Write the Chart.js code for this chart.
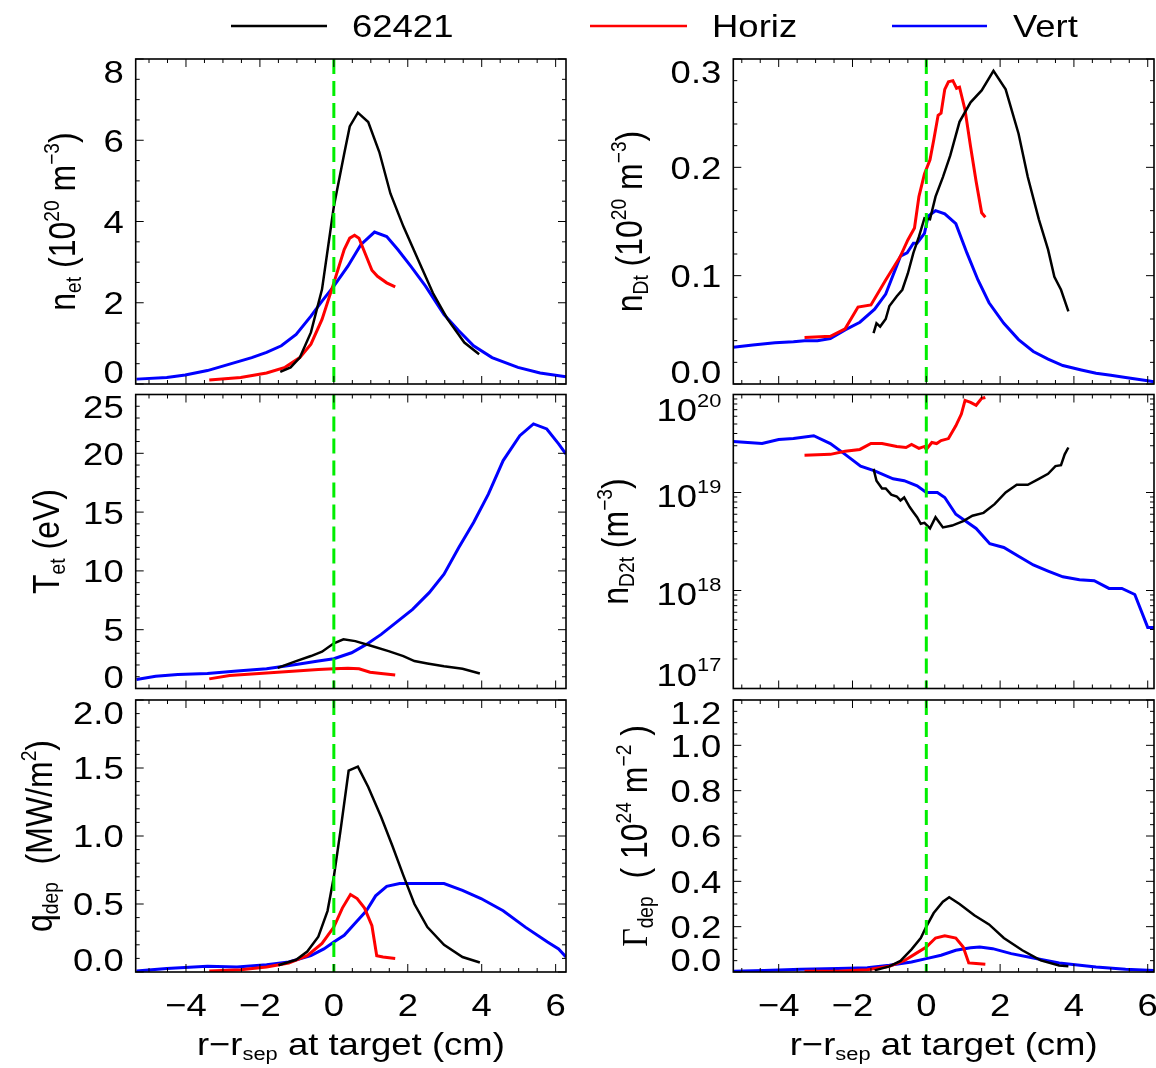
<!DOCTYPE html>
<html>
<head>
<meta charset="utf-8">
<script src="https://cdn.jsdelivr.net/npm/chart.js@4.4.1/dist/chart.umd.min.js"></script>
<style>
  html, body { margin: 0; padding: 0; background: #fff; }
  #wrap { position: relative; width: 1156px; height: 1068px; overflow: hidden; background: #fff; }
  #wrap canvas { position: absolute; left: 0; top: 0; }
</style>
</head>
<body>
<div id="wrap"></div>
<script>
// -------- series --------
const seriesNames = ["62421", "Horiz", "Vert"];
const seriesColors = ["#000000", "#ff0000", "#0000ff"];
const seriesWidths = [2.5, 3, 3];

// x ticks (cm)
const xTicks = [-4, -2, 0, 2, 4, 6];
const xTickLabels = ["\u22124", "\u22122", "0", "2", "4", "6"];

// n_et (1e20 m^-3)
const netShotX = [-1.45,-1.17,-0.92,-0.62,-0.32,0,0.28,0.43,0.65,0.93,1.23,1.53,1.88,2.28,2.68,3.08,3.53,3.93];
const netShotY = [0.30,0.41,0.65,1.27,2.33,4.37,5.67,6.34,6.68,6.45,5.71,4.69,3.88,3.06,2.24,1.59,1.02,0.73];
const netHorizX = [-3.37,-2.52,-1.82,-1.32,-0.92,-0.62,-0.32,0,0.28,0.43,0.56,0.68,0.88,1.03,1.18,1.43,1.66];
const netHorizY = [0.10,0.16,0.27,0.41,0.65,0.98,1.59,2.49,3.31,3.59,3.66,3.59,3.14,2.80,2.65,2.49,2.39];
const netVertX = [-5.34,-4.52,-4.02,-3.42,-2.82,-2.22,-1.82,-1.42,-1.02,-0.62,-0.32,0,0.38,0.73,1.10,1.43,1.73,2.08,2.48,2.98,3.38,3.78,4.28,4.98,5.58,6.28];
const netVertY = [0.12,0.16,0.22,0.33,0.49,0.65,0.78,0.94,1.22,1.67,2.04,2.41,2.90,3.43,3.74,3.63,3.31,2.90,2.41,1.71,1.31,0.94,0.65,0.41,0.27,0.18];
const netTicks = [0, 2, 4, 6, 8];
const netTickLabels = ["0", "2", "4", "6", "8"];

// n_Dt (1e20 m^-3)
const ndtShotX = [-1.43,-1.35,-1.25,-1.10,-1.0,-0.80,-0.65,-0.50,-0.35,-0.20,-0.05,0.10,0.25,0.45,0.65,0.90,1.20,1.50,1.82,2.15,2.50,2.75,3.05,3.30,3.47,3.65,3.85];
const ndtShotY = [0.047,0.056,0.053,0.060,0.072,0.081,0.087,0.102,0.121,0.136,0.153,0.152,0.173,0.191,0.211,0.242,0.260,0.271,0.289,0.272,0.231,0.191,0.152,0.124,0.099,0.087,0.067];
const ndtHorizX = [-3.30,-2.60,-2.20,-1.85,-1.50,-1.10,-0.70,-0.50,-0.32,-0.20,-0.05,0.10,0.20,0.32,0.40,0.50,0.60,0.72,0.82,0.90,1.05,1.20,1.35,1.50,1.60];
const ndtHorizY = [0.043,0.044,0.051,0.071,0.073,0.096,0.118,0.133,0.144,0.173,0.194,0.207,0.225,0.248,0.250,0.272,0.279,0.280,0.273,0.274,0.253,0.219,0.187,0.158,0.154];
const ndtVertX = [-5.23,-4.70,-4.10,-3.60,-3.30,-2.95,-2.60,-2.20,-1.80,-1.40,-1.10,-0.70,-0.52,-0.35,-0.25,-0.05,0.05,0.25,0.50,0.80,1.10,1.40,1.70,2.10,2.50,2.90,3.30,3.70,4.20,4.60,5.00,5.40,6.00,6.17];
const ndtVertY = [0.034,0.036,0.038,0.039,0.040,0.040,0.042,0.050,0.057,0.069,0.083,0.118,0.121,0.130,0.130,0.139,0.155,0.160,0.157,0.148,0.121,0.096,0.075,0.056,0.041,0.030,0.023,0.017,0.013,0.010,0.008,0.006,0.003,0.002];
const ndtTicks = [0, 0.1, 0.2, 0.3];
const ndtTickLabels = ["0.0", "0.1", "0.2", "0.3"];

// T_et (eV)
const tetShotX = [-1.52,-1.02,-0.62,-0.32,0,0.26,0.58,0.98,1.48,1.88,2.18,2.53,2.98,3.48,3.95];
const tetShotY = [1.76,2.33,2.76,3.13,3.84,4.18,4.03,3.66,3.18,2.76,2.33,2.13,1.90,1.68,1.28];
const tetHorizX = [-3.37,-2.82,-2.02,-1.02,-0.42,0,0.38,0.68,0.98,1.28,1.66];
const tetHorizY = [0.82,1.11,1.28,1.48,1.62,1.68,1.73,1.68,1.39,1.28,1.14];
const tetVertX = [-5.34,-4.82,-4.22,-3.42,-2.62,-1.82,-1.02,-0.42,0,0.48,0.88,1.28,1.68,2.13,2.58,2.98,3.38,3.78,4.18,4.58,5.03,5.40,5.76,6.08,6.28];
const tetVertY = [0.77,1.05,1.19,1.28,1.48,1.68,2.05,2.33,2.53,3.04,3.75,4.60,5.60,6.73,8.15,9.72,11.99,14.12,16.53,19.38,21.5,22.5,22.07,20.8,19.94];
const tetTicks = [0, 5, 10, 15, 20, 25];
const tetTickLabels = ["0", "5", "10", "15", "20", "25"];

// n_D2t (m^-3), log axis
const nd2ShotX = [-1.43,-1.35,-1.20,-1.10,-0.95,-0.80,-0.70,-0.60,-0.45,-0.35,-0.25,-0.15,-0.05,0.10,0.25,0.45,0.70,1.0,1.25,1.55,1.85,2.15,2.45,2.75,3.05,3.30,3.50,3.65,3.75,3.85];
const nd2ShotY = [1.74e19,1.32e19,1.10e19,1.10e19,9.5e18,9.1e18,8.3e18,8.9e18,7.1e18,6.3e18,5.6e18,4.8e18,4.9e18,4.3e18,5.6e18,4.4e18,4.6e18,5.1e18,5.8e18,6.2e18,7.6e18,1.0e19,1.2e19,1.2e19,1.38e19,1.55e19,1.86e19,1.9e19,2.45e19,2.88e19];
const nd2HorizX = [-3.30,-2.60,-2.20,-1.80,-1.50,-1.20,-0.80,-0.55,-0.40,-0.20,-0.05,0,0.15,0.28,0.40,0.60,0.80,0.95,1.05,1.20,1.35,1.50,1.60];
const nd2HorizY = [2.40e19,2.45e19,2.63e19,2.75e19,3.16e19,3.16e19,2.95e19,2.88e19,3.09e19,2.82e19,2.95e19,2.75e19,3.24e19,3.16e19,3.39e19,3.55e19,4.79e19,6.31e19,8.71e19,8.32e19,7.76e19,9.12e19,9.33e19];
const nd2VertX = [-5.23,-4.45,-4.0,-3.6,-3.05,-2.60,-2.20,-1.78,-1.40,-0.90,-0.60,-0.25,0,0.30,0.50,0.80,1.35,1.72,2.10,2.50,2.90,3.30,3.70,4.15,4.55,4.95,5.30,5.65,6.00,6.17];
const nd2VertY = [3.31e19,3.16e19,3.47e19,3.55e19,3.80e19,3.16e19,2.45e19,1.86e19,1.66e19,1.38e19,1.32e19,1.17e19,1.0e19,1.0e19,8.9e18,6.0e18,4.3e18,3.0e18,2.75e18,2.24e18,1.82e18,1.58e18,1.38e18,1.29e18,1.26e18,1.05e18,1.05e18,9.1e17,4.2e17,4.2e17];
const nd2Ticks = [1e17, 1e18, 1e19, 1e20];
const nd2TickExps = ["17", "18", "19", "20"];

// q_dep (MW/m^2)
const qShotX = [-1.5,-1.02,-0.72,-0.42,-0.17,0,0.18,0.40,0.65,0.93,1.28,1.58,1.88,2.18,2.53,2.98,3.48,3.95];
const qShotY = [0.05,0.09,0.15,0.26,0.45,0.70,1.04,1.48,1.51,1.36,1.14,0.93,0.71,0.50,0.33,0.20,0.11,0.07];
const qHorizX = [-3.37,-2.52,-1.82,-1.22,-0.72,-0.32,0,0.23,0.45,0.63,0.83,1.03,1.16,1.33,1.66];
const qHorizY = [0.007,0.017,0.037,0.066,0.12,0.21,0.33,0.47,0.57,0.54,0.47,0.34,0.12,0.11,0.10];
const qVertX = [-5.34,-4.52,-3.42,-2.62,-1.82,-1.22,-0.62,-0.27,0,0.28,0.58,0.88,1.13,1.43,1.78,2.18,2.98,3.48,3.98,4.58,5.18,5.78,6.08,6.28];
const qVertY = [0.007,0.025,0.042,0.037,0.054,0.074,0.12,0.17,0.22,0.27,0.36,0.45,0.56,0.63,0.65,0.65,0.65,0.60,0.54,0.45,0.33,0.22,0.17,0.11];
const qTicks = [0, 0.5, 1.0, 1.5, 2.0];
const qTickLabels = ["0.0", "0.5", "1.0", "1.5", "2.0"];

// Gamma_dep (1e24 m^-2)
const gamShotX = [-1.40,-1.0,-0.70,-0.40,-0.15,0,0.20,0.45,0.62,0.90,1.30,1.70,2.10,2.60,3.10,3.60,3.85];
const gamShotY = [0.007,0.025,0.049,0.10,0.15,0.20,0.26,0.31,0.33,0.30,0.25,0.21,0.15,0.096,0.051,0.029,0.025];
const gamHorizX = [-3.30,-2.40,-1.60,-1.0,-0.60,-0.30,0,0.25,0.50,0.80,1.0,1.15,1.35,1.60];
const gamHorizY = [0.003,0.003,0.01,0.025,0.05,0.08,0.11,0.15,0.16,0.15,0.11,0.04,0.037,0.034];
const gamVertX = [-5.23,-4.40,-3.40,-2.40,-1.60,-1.0,-0.40,0,0.40,0.80,1.20,1.45,1.80,2.30,2.90,3.60,4.60,5.40,6.17];
const gamVertY = [0.003,0.007,0.012,0.015,0.019,0.03,0.044,0.059,0.074,0.096,0.107,0.11,0.103,0.081,0.062,0.040,0.022,0.012,0.007];
const gamTicks = [0, 0.2, 0.4, 0.6, 0.8, 1.0, 1.2];
const gamTickLabels = ["0.0", "0.2", "0.4", "0.6", "0.8", "1.0", "1.2"];

// -------- layout --------
const W = 1156, H = 1068;
const FONT = "'Liberation Sans', Arial, Helvetica, sans-serif";
const SERIF = "'Liberation Serif', 'DejaVu Serif', serif";
const SX = 1.14;          // the figure is a bit wider than tall
const FS = 32;            // text size
const CAP = FS * 0.716;
const COLS = [{ l: 135.7, r: 566, xmin: -5.36, xmax: 6.28 }, { l: 733.3, r: 1154, xmin: -5.23, xmax: 6.17 }];
const ROWS = [{ t: 59, b: 384 }, { t: 394.5, b: 688.5 }, { t: 700, b: 972 }];

const wrap = document.getElementById("wrap");

function richText(ctx, segs, x, y, align, rot) {
  ctx.save();
  ctx.translate(x, y);
  ctx.scale(SX, 1);
  if (rot) ctx.rotate(rot);
  const parts = segs.map(s => {
    const sz = s.k ? FS * 0.6 : FS;
    const font = `${sz}px ${s.f || FONT}`;
    ctx.font = font;
    const dy = s.k === "sub" ? FS * 0.17 : s.k === "sup" ? -FS * 0.45 : 0;
    return { t: s.t, font, dy, w: ctx.measureText(s.t).width };
  });
  const total = parts.reduce((a, p) => a + p.w, 0);
  let cx = align === "center" ? -total / 2 : align === "right" ? -total : 0;
  ctx.fillStyle = "#000";
  ctx.textBaseline = "alphabetic";
  ctx.textAlign = "left";
  parts.forEach(p => { ctx.font = p.font; ctx.fillText(p.t, cx, p.dy); cx += p.w; });
  ctx.restore();
}

function seq(min, max, step) {
  const out = [];
  for (let v = Math.ceil(min / step - 1e-9) * step; v <= max + 1e-9; v += step) out.push(+v.toFixed(6));
  return out;
}

const xTitle = [{ t: "r\u2212r" }, { t: "sep", k: "sub" }, { t: " at target (cm)" }];

const panels = [
  { col: 0, row: 0, series: [[netShotX, netShotY], [netHorizX, netHorizY], [netVertX, netVertY]],
    ymin: 0, ymax: 8, ticks: netTicks, labels: netTickLabels, minor: 0.5, titleX: 75,
    title: [{ t: "n" }, { t: "et", k: "sub" }, { t: " (10" }, { t: "20", k: "sup" }, { t: " m" }, { t: "\u22123", k: "sup" }, { t: ")" }] },
  { col: 1, row: 0, series: [[ndtShotX, ndtShotY], [ndtHorizX, ndtHorizY], [ndtVertX, ndtVertY]],
    ymin: 0, ymax: 0.3, ticks: ndtTicks, labels: ndtTickLabels, minor: 0.02, titleX: 642,
    title: [{ t: "n" }, { t: "Dt", k: "sub" }, { t: " (10" }, { t: "20", k: "sup" }, { t: " m" }, { t: "\u22123", k: "sup" }, { t: ")" }] },
  { col: 0, row: 1, series: [[tetShotX, tetShotY], [tetHorizX, tetHorizY], [tetVertX, tetVertY]],
    ymin: 0, ymax: 25, ticks: tetTicks, labels: tetTickLabels, minor: 1, titleX: 59,
    title: [{ t: "T" }, { t: "et", k: "sub" }, { t: " (eV)" }] },
  { col: 1, row: 1, series: [[nd2ShotX, nd2ShotY], [nd2HorizX, nd2HorizY], [nd2VertX, nd2VertY]],
    ymin: 1e17, ymax: 1e20, ticks: nd2Ticks, exps: nd2TickExps, log: true, titleX: 628,
    title: [{ t: "n" }, { t: "D2t", k: "sub" }, { t: " (m" }, { t: "\u22123", k: "sup" }, { t: ")" }] },
  { col: 0, row: 2, series: [[qShotX, qShotY], [qHorizX, qHorizY], [qVertX, qVertY]],
    ymin: 0, ymax: 2, ticks: qTicks, labels: qTickLabels, minor: 0.1, titleX: 52, bottom: true,
    title: [{ t: "q" }, { t: "dep", k: "sub" }, { t: "  (MW/m" }, { t: "2", k: "sup" }, { t: ")" }] },
  { col: 1, row: 2, series: [[gamShotX, gamShotY], [gamHorizX, gamHorizY], [gamVertX, gamVertY]],
    ymin: 0, ymax: 1.2, ticks: gamTicks, labels: gamTickLabels, minor: 0.05, titleX: 647, bottom: true,
    title: [{ t: "\u0393", f: SERIF }, { t: "dep", k: "sub" }, { t: "  ( 10" }, { t: "24", k: "sup" }, { t: " m" }, { t: "\u22122", k: "sup" }, { t: " )" }] }
];

function framePlugin(p, withLegend) {
  return {
    id: "frame",
    afterDatasetsDraw(chart) {
      const ctx = chart.ctx;
      const { left, right, top, bottom } = chart.chartArea;
      const xs = chart.scales.x, ys = chart.scales.y;
      ctx.save();
      ctx.strokeStyle = "#000";
      ctx.lineWidth = 1;
      const line = (x1, y1, x2, y2) => { ctx.beginPath(); ctx.moveTo(x1, y1); ctx.lineTo(x2, y2); ctx.stroke(); };
      // x ticks, top and bottom, pointing in
      seq(xs.min, xs.max, 0.5).forEach(v => {
        const px = xs.getPixelForValue(v);
        const len = xTicks.includes(v) ? 8 : 4;
        line(px, bottom, px, bottom - len);
        line(px, top, px, top + len);
      });
      // y ticks, left and right
      let yt = [];
      if (p.log) {
        for (let d = 17; d < 20; d++) for (let k = 1; k < 10; k++) yt.push({ v: k * Math.pow(10, d), major: k === 1 });
        yt.push({ v: 1e20, major: true });
      } else {
        yt = seq(p.ymin, p.ymax, p.minor).map(v => ({ v, major: p.ticks.some(t => Math.abs(t - v) < 1e-6) }));
      }
      yt.forEach(o => {
        const py = ys.getPixelForValue(o.v);
        const len = o.major ? 8 : 4;
        line(left, py, left + len, py);
        line(right, py, right - len, py);
      });
      ctx.lineWidth = 1.6;
      ctx.strokeRect(left, top, right - left, bottom - top);
      ctx.restore();

      // y tick labels
      const n = p.ticks.length;
      p.ticks.forEach((v, i) => {
        const py = ys.getPixelForValue(v);
        let base = py + CAP / 2;
        if (i === n - 1) base = py + CAP + 1;
        if (i === 0) base = py - 1;
        if (p.log) {
          base += i === 0 ? -2 : 3;
          richText(ctx, [{ t: "10" }, { t: p.exps[i], k: "sup" }], left - 12, base, "right");
        } else {
          richText(ctx, [{ t: p.labels[i] }], left - 12, base, "right");
        }
      });
      // y title
      richText(ctx, p.title, p.titleX, (top + bottom) / 2, "center", -Math.PI / 2);
      // x tick labels and title on the bottom row
      if (p.bottom) {
        xTicks.forEach((v, i) => richText(ctx, [{ t: xTickLabels[i] }], xs.getPixelForValue(v), 1016, "center"));
        richText(ctx, xTitle, (left + right) / 2, 1055, "center");
      }
      if (withLegend) drawLegend(ctx);
    }
  };
}

function drawLegend(ctx) {
  const items = [[231, 327, 352], [590, 687, 712], [892, 987, 1013]];
  items.forEach((it, i) => {
    ctx.save();
    ctx.strokeStyle = seriesColors[i];
    ctx.lineWidth = 2.6;
    ctx.beginPath(); ctx.moveTo(it[0], 26); ctx.lineTo(it[1], 26); ctx.stroke();
    ctx.restore();
    richText(ctx, [{ t: seriesNames[i] }], it[2], 37, "left");
  });
}

panels.forEach((p, idx) => {
  const cv = document.createElement("canvas");
  cv.width = W; cv.height = H;
  wrap.appendChild(cv);
  const c = COLS[p.col], r = ROWS[p.row];
  const datasets = p.series.map((s, i) => ({
    label: seriesNames[i],
    data: s[0].map((x, j) => ({ x, y: s[1][j] })),
    borderColor: seriesColors[i],
    borderWidth: seriesWidths[i],
    pointRadius: 0,
    tension: 0,
    fill: false,
    order: i + 1
  }));
  datasets.push({
    label: "separatrix",
    data: [{ x: 0, y: p.ymax }, { x: 0, y: p.ymin }],
    borderColor: "#00ee00",
    borderWidth: 3,
    borderDash: [15, 7],
    pointRadius: 0,
    order: 0
  });
  new Chart(cv, {
    type: "line",
    data: { datasets },
    options: {
      responsive: false,
      animation: false,
      events: [],
      layout: { padding: { left: c.l, right: W - c.r, top: r.t, bottom: H - r.b } },
      plugins: { legend: { display: false }, tooltip: { enabled: false } },
      scales: {
        x: { type: "linear", min: c.xmin, max: c.xmax, display: false },
        y: { type: p.log ? "logarithmic" : "linear", min: p.ymin, max: p.ymax, display: false }
      }
    },
    plugins: [framePlugin(p, idx === 0)]
  });
});
</script>
</body>
</html>
